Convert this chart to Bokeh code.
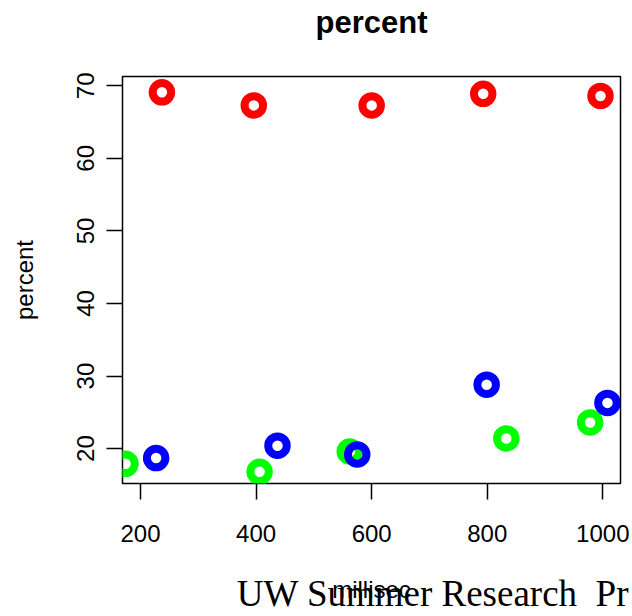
from bokeh.plotting import figure
from bokeh.models import Range1d, FixedTicker, LinearAxis
from bokeh.embed import file_html
from bokeh.resources import INLINE

# data
red_millisec = [237, 396, 600, 793, 996]
red_percent = [69.1, 67.3, 67.3, 68.9, 68.6]
green_millisec = [174, 406, 562, 833, 978]
green_percent = [17.9, 16.8, 19.6, 21.4, 23.6]
blue_millisec = [227, 437, 575, 799, 1008]
blue_percent = [18.7, 20.4, 19.2, 28.8, 26.3]

x_ticks = [200, 400, 600, 800, 1000]
y_ticks = [20, 30, 40, 50, 60, 70]

main_title = "percent"
x_title = "millisec"
y_title = "percent"
footer_text = "UW Summer Research \u00a0Pr"
footer_center = 706  # x (millisec) under the middle of the footer text

p = figure(width=632, height=616, output_backend="svg", toolbar_location=None,
           x_range=Range1d(168.8, 1030.6), y_range=Range1d(15.19, 71.28),
           min_border_left=122, min_border_right=12, min_border_top=76, min_border_bottom=132)
p.title.visible = False
p.background_fill_color = "white"
p.border_fill_color = "white"
p.outline_line_color = "black"
p.outline_line_width = 1.5
p.grid.visible = False

for ax in (p.xaxis[0], p.yaxis[0]):
    ax.axis_line_color = None
    ax.major_tick_line_color = "black"
    ax.major_tick_line_width = 1.5
    ax.major_tick_out = 16
    ax.major_tick_in = 0
    ax.minor_tick_line_color = None
    ax.major_label_text_font = "Liberation Sans"
    ax.major_label_text_font_size = "24px"
    ax.major_label_text_color = "black"
    ax.axis_label_text_font = "Liberation Sans"
    ax.axis_label_text_font_size = "24px"
    ax.axis_label_text_font_style = "normal"
    ax.axis_label_text_color = "black"

p.xaxis[0].ticker = FixedTicker(ticks=x_ticks)
p.yaxis[0].ticker = FixedTicker(ticks=y_ticks)
p.xaxis[0].major_label_standoff = 25
p.yaxis[0].major_label_standoff = 12
p.yaxis[0].major_label_orientation = "vertical"
p.xaxis[0].axis_label = x_title
p.xaxis[0].axis_label_standoff = 31
p.yaxis[0].axis_label = y_title
p.yaxis[0].axis_label_standoff = 37

# main title drawn as the label of a bare axis above the frame
top_axis = LinearAxis(ticker=FixedTicker(ticks=[]), axis_line_color=None,
                      major_tick_line_color=None, minor_tick_line_color=None,
                      major_label_text_font_size="0px",
                      axis_label=main_title, axis_label_standoff=37,
                      axis_label_text_font="Liberation Sans", axis_label_text_font_style="bold",
                      axis_label_text_font_size="31px", axis_label_text_color="black")
p.add_layout(top_axis, "above")

# footer line drawn as a tick label of a bare axis below the main one
foot_axis = LinearAxis(ticker=FixedTicker(ticks=[footer_center]),
                       major_label_overrides={footer_center: footer_text},
                       axis_line_color=None, major_tick_line_color=None,
                       minor_tick_line_color=None, major_tick_out=0, major_tick_in=0,
                       major_label_standoff=-33,
                       major_label_text_font="Liberation Serif",
                       major_label_text_font_size="37px", major_label_text_color="black")
p.add_layout(foot_axis, "below")

ring = dict(marker="circle", size=18.5, fill_color=None, line_width=8)
p.scatter(red_millisec, red_percent, line_color="#FF0000", **ring)
p.scatter(green_millisec, green_percent, line_color="#00FF00", **ring)
p.scatter(blue_millisec, blue_percent, line_color="#0000FF", **ring)

open("out.html", "w").write(file_html(p, INLINE))
